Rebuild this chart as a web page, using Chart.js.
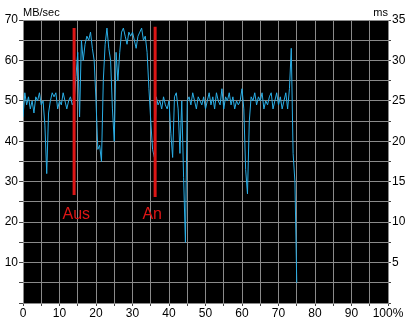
<!DOCTYPE html>
<html>
<head>
<meta charset="utf-8">
<script src="https://cdn.jsdelivr.net/npm/chart.js@4"></script>
<style>
  html, body { margin: 0; padding: 0; background: #ffffff; }
  #wrap { width: 408px; height: 322px; }
</style>
</head>
<body>
<div id="wrap"><canvas id="speedChart" width="408" height="322"></canvas></div>
<script>
// position in percent of the disk
const pct = [
  0, 0.5, 1, 1.5, 2, 2.5, 3, 3.5, 4, 4.5,
  5, 5.5, 6, 6.5, 7, 7.5, 8, 8.5, 9, 9.5,
  10, 10.5, 11, 11.5, 12, 12.5, 13, 13.5, 14, 14.5,
  15, 15.5, 16, 16.5, 17, 17.5, 18, 18.5, 19, 19.5,
  20, 20.5, 21, 21.5, 22, 22.5, 23, 23.5, 24, 24.5,
  25, 25.5, 26, 26.5, 27, 27.5, 28, 28.5, 29, 29.5,
  30, 30.5, 31, 31.5, 32, 32.5, 33, 33.5, 34, 34.5,
  35, 35.5, 36, 36.5, 37, 37.5, 38, 38.5, 39, 39.5,
  40, 40.5, 41, 41.5, 42, 42.5, 43, 43.5, 44, 44.5,
  45, 45.5, 46, 46.5, 47, 47.5, 48, 48.5, 49, 49.5,
  50, 50.5, 51, 51.5, 52, 52.5, 53, 53.5, 54, 54.5,
  55, 55.5, 56, 56.5, 57, 57.5, 58, 58.5, 59, 59.5,
  60, 60.5, 61, 61.5, 62, 62.5, 63, 63.5, 64, 64.5,
  65, 65.5, 66, 66.5, 67, 67.5, 68, 68.5, 69, 69.5,
  70, 70.5, 71, 71.5, 72, 72.5, 73, 73.5, 74, 74.5,
  75
];
// transfer rate MB/sec
const mbSec = [
  46, 52, 49, 51, 48, 50, 47, 51, 50, 52,
  49, 50, 44, 32, 47, 50, 52, 51, 52, 48,
  50, 49, 52, 50, 48, 50, 51, 49, 50, 56,
  62, 46, 65, 60, 64, 66, 65, 67, 63, 60,
  50, 38, 39, 35, 55, 64, 68, 63, 60, 48,
  40, 62, 55, 62, 67, 68, 66, 64, 67, 66,
  67, 65, 63, 66, 67, 68, 65, 66, 62, 53,
  45, 38, 36, 51, 49, 50, 48, 51, 49, 48,
  50, 42, 36, 51, 52, 48, 37, 50, 31, 15,
  50, 51, 49, 52, 50, 48, 51, 50, 49, 51,
  48, 50, 52, 49, 51, 48, 52, 50, 49, 53,
  48, 51, 50, 52, 49, 51, 48, 50, 49, 50,
  53, 48, 33, 27, 45, 51, 50, 52, 49, 51,
  50, 52, 48, 50, 49, 51, 52, 48, 50, 52,
  49, 51, 48, 50, 52, 48, 53, 63, 37, 30,
  5
];

// markers
const markerNames = ["Aus", "An"];
const markerPct = [14, 36.2];
const markerTop = [68, 68.3];
const markerBottom = [26.7, 26.2];
const markerTextPct = [14.6, 35.4];
const markerTextVal = [21.8, 21.8];

const redColor = "#dd1515";
const gridColor = "#8a8a8a";
const fontFamily = "'Liberation Sans', Arial, sans-serif";

var redSets = [];
for (var i = 0; i < markerNames.length; i++) {
  redSets.push({
    label: markerNames[i],
    data: [{ x: markerPct[i], y: markerTop[i] }, { x: markerPct[i], y: markerBottom[i] }],
    borderColor: redColor,
    borderWidth: 3,
    pointRadius: 0,
    yAxisID: "y",
  });
}

var speedPoints = pct.map(function (p, i) { return { x: p, y: mbSec[i] }; });

const plotStyle = {
  id: "plotStyle",
  beforeDraw(chart) {
    const a = chart.chartArea;
    const c = chart.ctx;
    c.save();
    c.fillStyle = "#000000";
    c.fillRect(a.left, a.top, a.right - a.left, a.bottom - a.top);
    c.restore();
  },
  afterDraw(chart) {
    const c = chart.ctx;
    const a = chart.chartArea;
    const xs = chart.scales.x;
    const ys = chart.scales.y;
    c.save();
    c.fillStyle = "#000000";
    c.font = "11px " + fontFamily;
    c.textBaseline = "middle";
    c.textAlign = "left";
    c.fillText("MB/sec", a.left, 13);
    c.textAlign = "right";
    c.fillText("ms", a.right, 13);
    c.fillStyle = redColor;
    c.font = "16px " + fontFamily;
    c.textAlign = "center";
    for (var i = 0; i < markerNames.length; i++) {
      c.fillText(markerNames[i], xs.getPixelForValue(markerTextPct[i]), ys.getPixelForValue(markerTextVal[i]));
    }
    c.restore();
  },
};

const tickFont = { family: fontFamily, size: 12 };

new Chart(document.getElementById("speedChart").getContext("2d"), {
  type: "line",
  data: {
    datasets: redSets.concat([
      {
        label: "MB/sec",
        data: speedPoints,
        borderColor: "#2aaee6",
        borderWidth: 1,
        pointRadius: 0,
        tension: 0,
        yAxisID: "y",
      },
    ]),
  },
  options: {
    responsive: false,
    animation: false,
    layout: { padding: { top: 20, left: 0, right: 0, bottom: 0 } },
    plugins: { legend: { display: false }, tooltip: { enabled: false } },
    scales: {
      x: {
        type: "linear",
        min: 0,
        max: 100,
        afterFit(s) { s.height = 19; },
        grid: { color: gridColor, tickColor: "#444444", tickLength: 3 },
        border: { color: gridColor },
        ticks: {
          stepSize: 5,
          autoSkip: false,
          maxRotation: 0,
          padding: 0,
          color: "#000000",
          font: tickFont,
          callback: function (v) {
            if (v % 10 !== 0) return "";
            return v === 100 ? "100%" : String(v);
          },
        },
      },
      y: {
        position: "left",
        min: 0,
        max: 70,
        afterFit(s) { s.width = 23; },
        grid: { color: gridColor, tickColor: "#444444", tickLength: 4 },
        border: { color: gridColor },
        ticks: {
          stepSize: 5,
          autoSkip: false,
          padding: 1,
          color: "#000000",
          font: tickFont,
          callback: function (v) { return v % 10 === 0 && v > 0 ? String(v) : ""; },
        },
      },
      y2: {
        position: "right",
        min: 0,
        max: 35,
        afterFit(s) { s.width = 20; },
        grid: { drawOnChartArea: false, tickColor: "#444444", tickLength: 3 },
        border: { color: gridColor },
        ticks: {
          stepSize: 2.5,
          autoSkip: false,
          padding: 1,
          color: "#000000",
          font: tickFont,
          callback: function (v) { return v % 5 === 0 && v > 0 ? String(v) : ""; },
        },
      },
    },
  },
  plugins: [plotStyle],
});
</script>
</body>
</html>
